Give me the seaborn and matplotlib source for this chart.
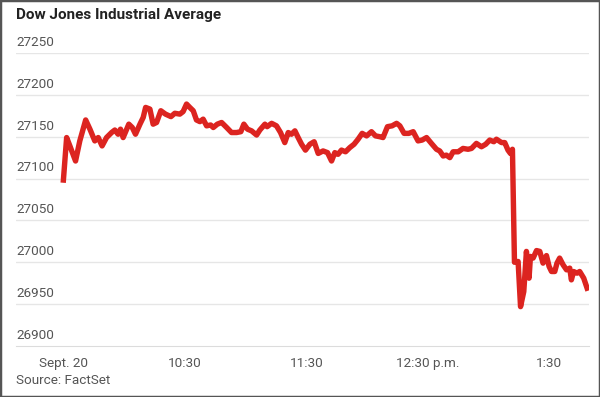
import numpy as np
import pandas as pd
import seaborn as sns
import matplotlib.pyplot as plt
import matplotlib.transforms as mtransforms
from matplotlib.patches import Rectangle

# minutes after the 9:30 open
minutes = [0, 1.7, 3.3, 6.1, 8.2, 11.1, 13.2, 15.6, 17.3, 19.2, 21.4, 23.9, 25.5, 27.1, 28.3,
           29.6, 32.4, 34.1, 35.7, 37.9, 39.5, 40.7, 42.8, 44.4, 46.1, 48.2, 50.5, 53.2, 55.1,
           57.6, 59.2, 60.9, 62.5, 64.2, 65.8, 67.5, 69.1, 70.8, 72.8, 74.1, 76.1, 78.2, 80.7,
           83.1, 85.6, 87.7, 89.2, 91.0, 93.0, 95.5, 97.1, 99.6, 100.7, 102.9, 105.3, 107.3,
           109.4, 111.1, 112.7, 114.4, 116.0, 117.7, 119.6, 121.8, 123.9, 125.9, 128.3, 130.5,
           132.5, 134.1, 135.7, 137.4, 139.4, 141.5, 143.6, 145.6, 147.6, 149.8, 152.2, 154.2,
           156.3, 157.9, 160.1, 162.4, 164.6, 166.2, 168.3, 170.6, 172.8, 175.2, 177.2, 179.4,
           181.8, 184.3, 185.9, 187.6, 189.2, 190.9, 192.5, 195.0, 197.4, 199.9, 201.6, 204.0,
           206.5, 208.6, 210.6, 212.6, 213.9, 216.4, 218.0, 219.6, 220.8, 221.8, 222.8, 224.6,
           225.8, 227.4, 228.7, 230.0, 230.7, 232.0, 233.7, 235.3, 236.9, 238.6, 239.9, 241.1,
           242.7, 243.8, 245.1, 246.8, 248.5, 250.1, 250.9, 252.0, 253.7, 255.0, 257.0, 259.1]

dow = [27095, 27149, 27139, 27121, 27145, 27170, 27159, 27145, 27149, 27139, 27149, 27155, 27158,
       27153, 27159, 27149, 27165, 27161, 27153, 27165, 27173, 27185, 27183, 27165, 27167, 27181,
       27177, 27174, 27178, 27177, 27180, 27189, 27185, 27181, 27170, 27168, 27171, 27163, 27164,
       27161, 27165, 27167, 27161, 27155, 27155, 27156, 27165, 27159, 27157, 27152, 27158, 27165,
       27162, 27166, 27163, 27155, 27143, 27155, 27153, 27157, 27149, 27141, 27134, 27141, 27144,
       27130, 27133, 27131, 27121, 27131, 27129, 27134, 27132, 27137, 27141, 27147, 27154, 27151,
       27156, 27151, 27150, 27149, 27162, 27163, 27166, 27163, 27154, 27154, 27156, 27145, 27146,
       27149, 27142, 27135, 27133, 27127, 27128, 27125, 27132, 27132, 27136, 27135, 27136, 27142,
       27138, 27141, 27146, 27144, 27147, 27143, 27143, 27134, 27130, 27135, 27000, 27001, 26947,
       26965, 27013, 26981, 27007, 27005, 27014, 27013, 26999, 27008, 26995, 26989, 26989, 26999,
       27005, 26997, 26991, 26993, 26979, 26989, 26987, 26989, 26981, 26966]

x_ticks = [0, 60, 120, 180, 240]
x_labels = ["Sept. 20", "10:30", "11:30", "12:30 p.m.", "1:30"]
y_ticks = [26900, 26950, 27000, 27050, 27100, 27150, 27200, 27250]

sns.set_style("white")
plt.rcParams['font.family'] = ['Roboto', 'DejaVu Sans']

data = pd.DataFrame({"minute": minutes, "value": dow})

fig = plt.figure(figsize=(6, 3.97), dpi=100)
ax = fig.add_axes([16 / 600, 1 - 346 / 397, (589 - 16) / 600, (346 - 53) / 397])

sns.lineplot(data=data, x="minute", y="value", ax=ax, color="#dc2420", linewidth=3.9,
             solid_joinstyle="round", solid_capstyle="butt")

ax.set_xlim(-23.3, 259.6)
ax.set_ylim(26900, 27250)
ax.set_xlabel("")
ax.set_ylabel("")

# gridlines with labels sitting above them
ax.set_yticks(y_ticks)
ax.set_yticklabels([])
ax.tick_params(axis="y", length=0)
for v in y_ticks[1:]:
    ax.axhline(v, color="#e6e6e6", linewidth=1, zorder=0)
trans = mtransforms.blended_transform_factory(ax.transAxes, ax.transData)
for v in y_ticks:
    ax.text(0, v + 5, str(v), transform=trans, ha="left", va="bottom",
            fontsize=9.7, color="#555555")

ax.set_xticks(x_ticks)
ax.set_xticklabels(x_labels, fontsize=9.7, color="#555555")
ax.set_xticks([30, 90, 150, 210], minor=True)
ax.tick_params(axis="x", which="both", length=3, color="#d8d8d8", pad=5)

for s in ["top", "right", "left"]:
    ax.spines[s].set_visible(False)
ax.spines["bottom"].set_color("#dcdcdc")

fig.text(16 / 600, 1 - 15 / 397, "Dow Jones Industrial Average", ha="left", va="center",
         fontsize=11, fontweight="bold", color="#222222")
fig.text(16 / 600, 1 - 381 / 397, "Source: FactSet", ha="left", va="center",
         fontsize=9.7, color="#555555")

fig.patches.append(Rectangle((0, 0), 1, 1, transform=fig.transFigure, fill=False,
                             edgecolor="#555555", linewidth=2.5))

plt.savefig("out.png", dpi=100)
